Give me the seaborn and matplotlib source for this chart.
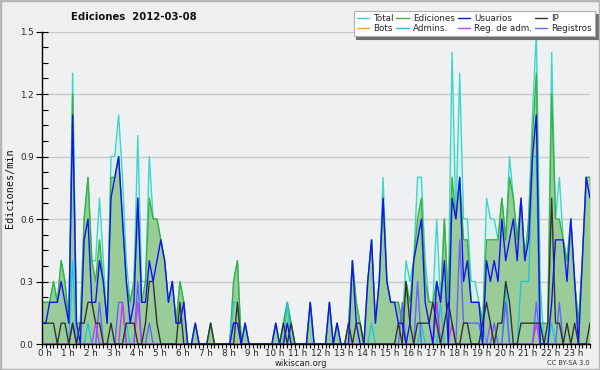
import numpy as np
import pandas as pd
import matplotlib
matplotlib.use("Agg")
import matplotlib.pyplot as plt
import seaborn as sns
from matplotlib.lines import Line2D
from matplotlib.patches import Rectangle
from matplotlib.transforms import ScaledTranslation
from matplotlib.ticker import MultipleLocator

hour_labels = [f"{h} h" for h in range(24)]
y_ticks = [0.0, 0.3, 0.6, 0.9, 1.2, 1.5]

# one value per 10 minutes (edits/min), 6 values per hour
total = [
    0.2, 0.2, 0.2, 0.3, 0.2, 0.4,
    0.3, 0.1, 1.3, 0.1, 0.1, 0.6,
    0.8, 0.4, 0.4, 0.7, 0.4, 0.1,
    0.9, 0.9, 1.1, 0.8, 0.4, 0.2,
    0.3, 1.0, 0.3, 0.3, 0.9, 0.6,
    0.6, 0.5, 0.4, 0.2, 0.3, 0.1,
    0.3, 0.2, 0.0, 0.0, 0.1, 0.0,
    0.0, 0.0, 0.1, 0.0, 0.0, 0.0,
    0.0, 0.0, 0.3, 0.4, 0.0, 0.1,
    0.0, 0.0, 0.0, 0.0, 0.0, 0.0,
    0.0, 0.1, 0.0, 0.1, 0.2, 0.1,
    0.0, 0.0, 0.0, 0.0, 0.2, 0.0,
    0.0, 0.0, 0.0, 0.2, 0.0, 0.1,
    0.0, 0.0, 0.1, 0.4, 0.2, 0.1,
    0.0, 0.3, 0.5, 0.1, 0.3, 0.8,
    0.3, 0.2, 0.2, 0.2, 0.1, 0.4,
    0.3, 0.4, 0.8, 0.8, 0.4, 0.2,
    0.2, 0.6, 0.2, 0.6, 0.2, 1.4,
    0.6, 1.3, 0.6, 0.6, 0.3, 0.3,
    0.2, 0.1, 0.7, 0.6, 0.6, 0.5,
    0.7, 0.5, 0.9, 0.7, 0.5, 0.7,
    0.4, 0.6, 1.1, 1.5, 0.3, 0.0,
    0.1, 1.4, 0.6, 0.8, 0.5, 0.4,
    0.6, 0.3, 0.1, 0.4, 0.8, 0.8,
]
ediciones = [
    0.2, 0.2, 0.2, 0.3, 0.2, 0.4,
    0.3, 0.1, 1.2, 0.1, 0.1, 0.6,
    0.8, 0.4, 0.3, 0.5, 0.3, 0.1,
    0.8, 0.8, 0.9, 0.6, 0.3, 0.2,
    0.3, 0.7, 0.2, 0.3, 0.7, 0.6,
    0.6, 0.5, 0.4, 0.2, 0.3, 0.1,
    0.3, 0.2, 0.0, 0.0, 0.1, 0.0,
    0.0, 0.0, 0.1, 0.0, 0.0, 0.0,
    0.0, 0.0, 0.3, 0.4, 0.0, 0.1,
    0.0, 0.0, 0.0, 0.0, 0.0, 0.0,
    0.0, 0.1, 0.0, 0.1, 0.2, 0.1,
    0.0, 0.0, 0.0, 0.0, 0.2, 0.0,
    0.0, 0.0, 0.0, 0.2, 0.0, 0.1,
    0.0, 0.0, 0.1, 0.4, 0.2, 0.1,
    0.0, 0.3, 0.5, 0.1, 0.3, 0.7,
    0.3, 0.2, 0.2, 0.2, 0.1, 0.3,
    0.2, 0.4, 0.6, 0.7, 0.3, 0.2,
    0.2, 0.3, 0.2, 0.6, 0.2, 0.8,
    0.6, 0.8, 0.5, 0.5, 0.2, 0.2,
    0.2, 0.1, 0.5, 0.5, 0.5, 0.5,
    0.7, 0.5, 0.8, 0.7, 0.5, 0.7,
    0.4, 0.6, 1.0, 1.3, 0.1, 0.1,
    0.1, 1.2, 0.6, 0.6, 0.5, 0.4,
    0.6, 0.3, 0.1, 0.4, 0.8, 0.8,
]
usuarios = [
    0.1, 0.1, 0.2, 0.2, 0.2, 0.3,
    0.2, 0.1, 1.1, 0.1, 0.0, 0.5,
    0.6, 0.2, 0.2, 0.4, 0.3, 0.1,
    0.7, 0.8, 0.9, 0.6, 0.3, 0.1,
    0.2, 0.7, 0.2, 0.2, 0.4, 0.3,
    0.4, 0.5, 0.4, 0.2, 0.3, 0.1,
    0.1, 0.2, 0.0, 0.0, 0.1, 0.0,
    0.0, 0.0, 0.0, 0.0, 0.0, 0.0,
    0.0, 0.0, 0.1, 0.1, 0.0, 0.1,
    0.0, 0.0, 0.0, 0.0, 0.0, 0.0,
    0.0, 0.1, 0.0, 0.0, 0.1, 0.0,
    0.0, 0.0, 0.0, 0.0, 0.2, 0.0,
    0.0, 0.0, 0.0, 0.2, 0.0, 0.1,
    0.0, 0.0, 0.0, 0.4, 0.1, 0.0,
    0.0, 0.3, 0.5, 0.1, 0.3, 0.7,
    0.3, 0.2, 0.2, 0.1, 0.1, 0.0,
    0.1, 0.4, 0.5, 0.6, 0.2, 0.1,
    0.0, 0.3, 0.2, 0.4, 0.0, 0.7,
    0.6, 0.8, 0.3, 0.4, 0.2, 0.2,
    0.2, 0.0, 0.4, 0.3, 0.4, 0.3,
    0.6, 0.4, 0.5, 0.6, 0.4, 0.7,
    0.4, 0.5, 0.9, 1.1, 0.0, 0.0,
    0.0, 0.2, 0.5, 0.5, 0.5, 0.3,
    0.6, 0.3, 0.0, 0.4, 0.8, 0.7,
]
ip = [
    0.1, 0.1, 0.1, 0.1, 0.0, 0.1,
    0.1, 0.0, 0.1, 0.0, 0.1, 0.1,
    0.2, 0.2, 0.1, 0.1, 0.0, 0.0,
    0.1, 0.0, 0.0, 0.0, 0.1, 0.1,
    0.1, 0.0, 0.0, 0.1, 0.3, 0.3,
    0.1, 0.0, 0.0, 0.0, 0.0, 0.0,
    0.2, 0.0, 0.0, 0.0, 0.0, 0.0,
    0.0, 0.0, 0.1, 0.0, 0.0, 0.0,
    0.0, 0.0, 0.0, 0.2, 0.0, 0.0,
    0.0, 0.0, 0.0, 0.0, 0.0, 0.0,
    0.0, 0.0, 0.0, 0.1, 0.0, 0.1,
    0.0, 0.0, 0.0, 0.0, 0.0, 0.0,
    0.0, 0.0, 0.0, 0.0, 0.0, 0.0,
    0.0, 0.0, 0.1, 0.0, 0.1, 0.1,
    0.0, 0.0, 0.0, 0.0, 0.0, 0.0,
    0.0, 0.0, 0.0, 0.1, 0.0, 0.3,
    0.1, 0.0, 0.1, 0.1, 0.1, 0.1,
    0.2, 0.1, 0.0, 0.1, 0.2, 0.1,
    0.0, 0.0, 0.1, 0.1, 0.0, 0.0,
    0.0, 0.1, 0.2, 0.1, 0.0, 0.1,
    0.1, 0.3, 0.2, 0.0, 0.0, 0.1,
    0.1, 0.1, 0.1, 0.1, 0.1, 0.0,
    0.1, 0.7, 0.1, 0.1, 0.0, 0.1,
    0.0, 0.1, 0.0, 0.0, 0.0, 0.1,
]
bots = [0.0] * 144
admins = [
    0, 0, 0, 0, 0, 0,
    0, 0, 0.4, 0, 0, 0,
    0.1, 0, 0, 0, 0, 0,
    0, 0, 0, 0, 0.1, 0,
    0, 0, 0, 0, 0, 0,
    0, 0, 0, 0, 0, 0,
    0, 0, 0, 0, 0, 0,
    0, 0, 0, 0, 0, 0,
    0, 0, 0.2, 0.2, 0, 0,
    0, 0, 0, 0, 0, 0,
    0, 0, 0, 0, 0.2, 0,
    0, 0, 0, 0, 0, 0,
    0, 0, 0, 0, 0, 0,
    0, 0, 0, 0, 0, 0,
    0, 0, 0.1, 0, 0, 0,
    0, 0, 0, 0, 0, 0,
    0, 0, 0, 0.1, 0, 0,
    0, 0, 0.2, 0, 0, 0,
    0, 0, 0, 0, 0, 0,
    0, 0.1, 0, 0, 0, 0,
    0, 0.3, 0, 0, 0, 0.3,
    0.3, 0.3, 0.9, 0.9, 0, 0,
    0, 0.1, 0, 0, 0, 0,
    0, 0, 0, 0, 0, 0,
]
reg_adm = [
    0, 0, 0, 0, 0, 0,
    0, 0, 0.1, 0, 0, 0,
    0, 0, 0.1, 0, 0, 0,
    0, 0, 0, 0.2, 0, 0,
    0, 0.2, 0, 0, 0, 0,
    0, 0, 0, 0, 0, 0,
    0, 0, 0, 0, 0, 0,
    0, 0, 0, 0, 0, 0,
    0, 0, 0, 0, 0, 0,
    0, 0, 0, 0, 0, 0,
    0, 0, 0, 0, 0, 0,
    0, 0, 0, 0, 0, 0,
    0, 0, 0, 0, 0, 0,
    0, 0, 0, 0, 0, 0,
    0, 0, 0, 0, 0, 0,
    0, 0, 0, 0, 0, 0,
    0, 0, 0, 0, 0, 0,
    0, 0.2, 0, 0, 0, 0.1,
    0, 0, 0, 0, 0, 0,
    0, 0, 0, 0.1, 0, 0,
    0, 0, 0, 0, 0, 0,
    0, 0, 0, 0.1, 0, 0,
    0, 0, 0, 0, 0, 0,
    0, 0, 0, 0, 0, 0,
]
registros = [
    0, 0, 0, 0, 0, 0,
    0, 0, 0.1, 0, 0, 0,
    0, 0, 0, 0.2, 0, 0,
    0, 0, 0.2, 0.2, 0, 0,
    0, 0.3, 0, 0, 0.1, 0,
    0, 0, 0, 0, 0, 0,
    0, 0, 0, 0, 0, 0,
    0, 0, 0, 0, 0, 0,
    0, 0, 0.1, 0.1, 0, 0,
    0, 0, 0, 0, 0, 0,
    0, 0, 0, 0, 0, 0,
    0, 0, 0, 0, 0, 0,
    0, 0, 0, 0, 0, 0,
    0, 0, 0, 0, 0, 0,
    0, 0, 0, 0, 0, 0,
    0, 0, 0, 0, 0.2, 0,
    0, 0, 0.3, 0, 0, 0,
    0, 0.2, 0, 0, 0, 0,
    0, 0.5, 0.1, 0.1, 0.1, 0.1,
    0.1, 0, 0, 0, 0.1, 0,
    0, 0.2, 0, 0, 0, 0,
    0, 0, 0, 0.2, 0, 0,
    0, 0, 0, 0.2, 0, 0,
    0, 0, 0, 0, 0, 0,
]

sns.set_theme(style="white")
plt.rcParams["font.family"] = ["DejaVu Sans"]

n = len(total)
hours = np.arange(n) / 6.0
df = pd.DataFrame({
    "hora": hours, "Total": total, "Ediciones": ediciones, "Usuarios": usuarios,
    "IP": ip, "Bots": bots, "Admins.": admins, "Reg. de adm.": reg_adm,
    "Registros": registros,
})

colors = {
    "Total": "#3ed6ca", "Ediciones": "#3cb23c", "Usuarios": "#1212f2",
    "IP": "#333333", "Bots": "#ffa024", "Admins.": "#20c4dc",
    "Reg. de adm.": "#c83cf0", "Registros": "#6464ff",
}

W, H = 600, 370
fig = plt.figure(figsize=(W / 100, H / 100), dpi=100, facecolor="#efefef")
ax = fig.add_axes([42 / W, 1 - 344 / H, 548 / W, (344 - 31.5) / H])
ax.set_facecolor("#eef0f2")

ax.fill_between(df["hora"], df["Total"], color="#dbf1eb", lw=0, zorder=1)
ax.fill_between(df["hora"], df["Ediciones"], color="#99cc99", lw=0, zorder=1.1)

draw_order = ["Total", "Ediciones", "Bots", "Admins.", "Registros", "Reg. de adm.", "IP", "Usuarios"]
for k, name in enumerate(draw_order):
    sns.lineplot(data=df, x="hora", y=name, ax=ax, color=colors[name], lw=1.0,
                 legend=False, zorder=2 + k * 0.01)

ax.set_xlim(0, hours[-1])
ax.set_ylim(0, 1.5)
ax.set_xticks(range(24))
ax.set_xticklabels(hour_labels, fontsize=6.3)
ax.xaxis.set_minor_locator(MultipleLocator(1 / 6))
ax.set_yticks(y_ticks)
ax.set_yticklabels([f"{v:.1f}" for v in y_ticks], fontsize=6.3)
ax.yaxis.set_minor_locator(MultipleLocator(0.075))
ax.set_xlabel("")
ax.set_ylabel("")
ax.yaxis.grid(True, color="#c9c9c9", lw=1.0)
ax.xaxis.grid(False)
ax.set_axisbelow(True)
for s in ["top", "right"]:
    ax.spines[s].set_visible(False)
for s in ["left", "bottom"]:
    ax.spines[s].set_color("black")
    ax.spines[s].set_linewidth(1.0)
    ax.spines[s].set_zorder(5)
ax.tick_params(axis="x", which="both", direction="out", length=3, width=0.8,
               color="black", pad=0.3, bottom=True)
ax.tick_params(axis="y", which="major", direction="inout", length=8, width=0.8,
               color="black", pad=2, left=True)
ax.tick_params(axis="y", which="minor", direction="in", length=4, width=0.8,
               color="black", left=True)
off = ScaledTranslation(3 / 100, 0, fig.dpi_scale_trans)
for lbl in ax.get_xticklabels():
    lbl.set_transform(lbl.get_transform() + off)

fig.text(134 / W, 1 - 17 / H, "Ediciones  2012-03-08", fontsize=7.3,
         fontweight="bold", ha="center", va="center", color="#111111")
fig.text(10 / W, 1 - 188 / H, "Ediciones/min", rotation=90, fontsize=7.3,
         family="DejaVu Sans Mono", ha="center", va="center", color="#111111")
fig.text(301 / W, 1 - 363.5 / H, "wikiscan.org", fontsize=6.0, ha="center",
         va="center", color="#222222")
fig.text(590 / W, 1 - 363 / H, "CC BY-SA 3.0", fontsize=4.8, ha="right",
         va="center", color="#333333")

legend_order = ["Total", "Bots", "Ediciones", "Admins.", "Usuarios",
                "Reg. de adm.", "IP", "Registros"]
handles = [Line2D([], [], color=colors[nm], lw=1.0) for nm in legend_order]
leg = fig.legend(handles, legend_order, loc="upper right",
                 bbox_to_anchor=(595 / W, 1 - 11 / H), ncol=4, fontsize=6.3,
                 frameon=True, fancybox=False, shadow={"color": "#6e6e6e", "alpha": 1},
                 handlelength=1.4, handletextpad=0.5, columnspacing=0.3,
                 labelspacing=0.15, borderpad=0.35, borderaxespad=0)
leg.get_frame().set_facecolor("white")
leg.get_frame().set_edgecolor("#b0b0b0")
leg.get_frame().set_linewidth(0.8)

fig.patches.append(Rectangle((0, 0), 1, 1, transform=fig.transFigure, fill=False,
                             ec="#b5b5b5", lw=2.5, zorder=10))

fig.savefig("out.png", dpi=100, facecolor=fig.get_facecolor())
